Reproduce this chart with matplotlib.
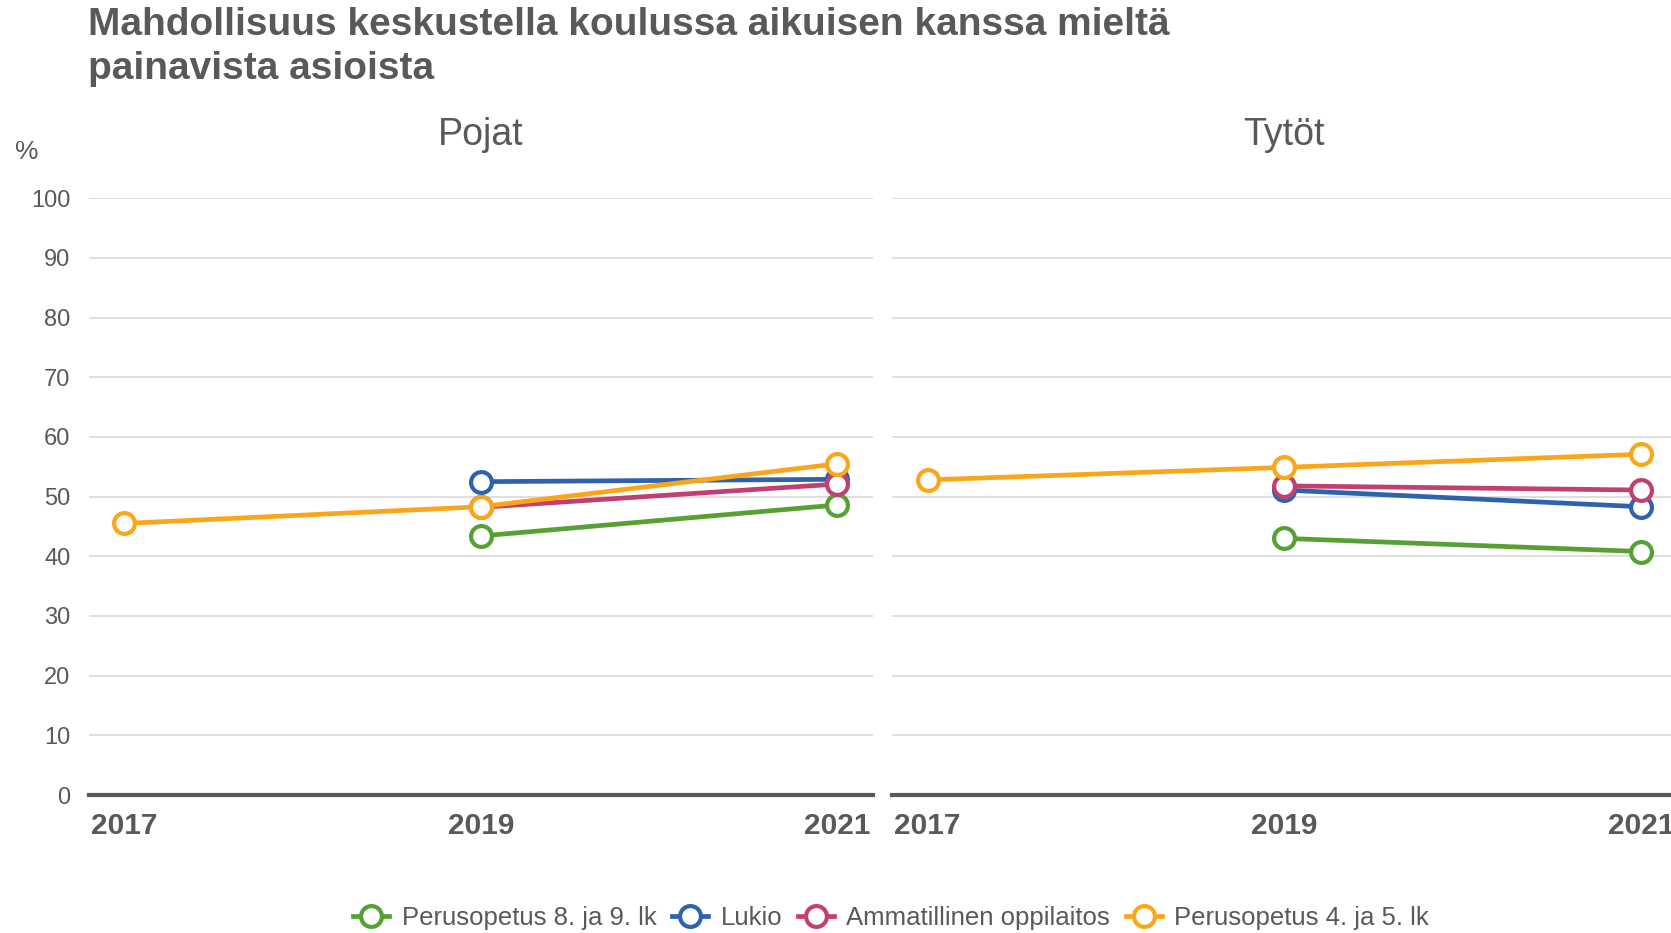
import numpy as np
import matplotlib
matplotlib.use("Agg")
import matplotlib.pyplot as plt
from matplotlib.lines import Line2D

plt.rcParams['font.family'] = ['Liberation Sans', 'DejaVu Sans']

years = [2017, 2019, 2021]
series_names = ["Perusopetus 8. ja 9. lk", "Lukio", "Ammatillinen oppilaitos", "Perusopetus 4. ja 5. lk"]
colors = ["#57a133", "#2f62ad", "#c23f72", "#faa51a"]
panels = ["Pojat", "Tytöt"]

pojat_perus89 = [np.nan, 43.4, 48.6]
pojat_lukio = [np.nan, 52.5, 52.9]
pojat_amm = [np.nan, 48.2, 52.1]
pojat_perus45 = [45.5, 48.3, 55.5]

tytot_perus89 = [np.nan, 43.0, 40.8]
tytot_lukio = [np.nan, 51.1, 48.3]
tytot_amm = [np.nan, 51.8, 51.1]
tytot_perus45 = [52.8, 54.9, 57.1]

panel_data = [
    [pojat_perus89, pojat_lukio, pojat_amm, pojat_perus45],
    [tytot_perus89, tytot_lukio, tytot_amm, tytot_perus45],
]

yticks = list(range(0, 101, 10))
TXT = "#595959"

W, H = 1671, 933
fig = plt.figure(figsize=(W / 100, H / 100), dpi=100)

ax_left_px = [88.5, 892]
ax_w_px = 784.5
y0_px = 795
y100_px = 198.2

LW, MS, MEW = 3.4, 15, 3.0

for i, name in enumerate(panels):
    ax = fig.add_axes([ax_left_px[i] / W, (H - y0_px) / H, ax_w_px / W, (y0_px - y100_px) / H])
    ax.set_xlim(2016.8, 2021.2)
    ax.set_ylim(0, 100)
    ax.set_yticks(yticks)
    ax.set_xticks(years)
    ax.set_xticklabels([str(y) for y in years], fontsize=21.5, fontweight='bold', color=TXT)
    if i == 0:
        ax.set_yticklabels([str(v) for v in yticks], fontsize=17, color=TXT)
    else:
        ax.set_yticklabels([])
    ax.tick_params(axis='both', length=0)
    ax.tick_params(axis='x', pad=12)
    ax.tick_params(axis='y', pad=13)
    for s in ['top', 'right', 'left']:
        ax.spines[s].set_visible(False)
    ax.spines['bottom'].set_color(TXT)
    ax.spines['bottom'].set_linewidth(3)
    ax.spines['bottom'].set_zorder(5)
    ax.grid(axis='y', color='#d9d9d9', linewidth=1.2)
    ax.set_axisbelow(True)
    for vals, col in zip(panel_data[i], colors):
        ax.plot(years, vals, color=col, linewidth=LW, marker='o', markersize=MS,
                markerfacecolor='white', markeredgecolor=col, markeredgewidth=MEW,
                clip_on=False, zorder=3)
    fig.text((ax_left_px[i] + ax_w_px / 2) / W, 1 - 135 / H, name, fontsize=27,
             color=TXT, ha='center', va='center')

fig.text(88.5 / W, 1 - 7 / H,
         "Mahdollisuus keskustella koulussa aikuisen kanssa mieltä\npainavista asioista",
         fontsize=28, fontweight='bold', color=TXT, ha='left', va='top', linespacing=1.28)
fig.text(27 / W, 1 - 152 / H, "%", fontsize=19, color=TXT, ha='center', va='center')

handles = [Line2D([0], [0], color=c, linewidth=LW, marker='o', markersize=MS,
                  markerfacecolor='white', markeredgecolor=c, markeredgewidth=MEW)
           for c in colors]
leg = fig.legend(handles, series_names, loc='center', bbox_to_anchor=(891 / W, 1 - 918 / H),
                 ncol=4, frameon=False, fontsize=18.5, handlelength=1.4, handletextpad=0.5,
                 columnspacing=0.6, labelcolor=TXT)

fig.savefig("out.png", dpi=100)
